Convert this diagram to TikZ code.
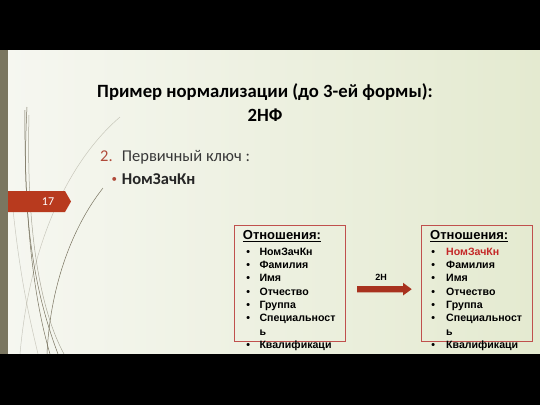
\documentclass[tikz,border=0pt]{standalone}
\usepackage{fontspec}
\setmainfont{Carlito}
\newfontfamily\arialf{Liberation Sans}
\usetikzlibrary{shapes.geometric}
\definecolor{bgl}{RGB}{246,247,241}
\definecolor{bgr}{RGB}{228,234,208}
\definecolor{strip}{RGB}{122,118,96}
\definecolor{badge}{RGB}{184,58,30}
\definecolor{accent}{RGB}{176,74,58}
\definecolor{boxred}{RGB}{192,80,77}
\definecolor{arrowred}{RGB}{168,50,30}
\definecolor{keyred}{RGB}{196,40,40}
\definecolor{deco}{RGB}{120,115,95}
\tikzset{
  titletext/.style={font=\bfseries\fontsize{18.7}{22}\selectfont, text=black},
  bodytext/.style={font=\fontsize{16.5}{20}\selectfont, text=black!78, anchor=base west, inner sep=0},
  relbox/.style={draw=boxred, line width=1pt},
  item/.style={font=\arialf\bfseries\fontsize{10.6}{12}\selectfont, anchor=base west, inner sep=0},
  bul/.style={font=\arialf\bfseries\fontsize{10.6}{12}\selectfont, anchor=base, inner sep=0},
  head/.style={font=\arialf\bfseries\fontsize{13}{14}\selectfont, anchor=base west, inner sep=0},
  decoline/.style={draw=deco, line width=0.5pt},
}
\begin{document}
\begin{tikzpicture}[x=1pt,y=-1pt]
\useasboundingbox (0,0) rectangle (540,405);
% background
\shade[left color=bgl, right color=bgr] (0,50) rectangle (540,354);
\fill[strip] (0,50) rectangle (8,354);
% decorative lines
\draw[decoline] (27,107) .. controls (22,200) and (30,280) .. (58,354);
\draw[decoline] (25,110) .. controls (24,220) and (34,300) .. (50,354);
\draw[decoline, draw opacity=0.6] (29,115) .. controls (26,230) and (40,310) .. (64,354);
\draw[decoline] (103,188) .. controls (70,230) and (50,290) .. (47,354);
\draw[decoline, draw opacity=0.35] (120,117) .. controls (70,160) and (30,240) .. (20,354);
\draw[decoline, draw opacity=0.35] (12,200) .. controls (20,280) and (30,320) .. (38,354);
% badge
\fill[badge] (8,191) -- (65,191) -- (71,201.5) -- (65,212) -- (8,212) -- cycle;
\node[font=\fontsize{12}{14}\selectfont, text=white, inner sep=0] (num) at (48,201.5) {17};
% title
\node[titletext, anchor=base] (title) at (265,97.7) {Пример нормализации (до 3-ей формы):};
\node[titletext, anchor=base] (sub) at (265,121.7) {2НФ};
% list
\node[bodytext, text=accent] (two) at (100,161.7) {2.};
\node[bodytext] (pk) at (121.7,161.7) {Первичный ключ :};
\node[bodytext, font=\fontsize{11}{12}\selectfont, text=accent] (dot) at (111.5,182.5) {•};
\node[bodytext, font=\bfseries\fontsize{16.5}{20}\selectfont, text=black!85] (key) at (121.7,184.5) {НомЗачКн};
% boxes
\draw[relbox] (234.5,225.5) rectangle (345.7,341);
\draw[relbox] (421.7,225.5) rectangle (532.7,341);
% arrow
\fill[arrowred] (357,286) -- (403,286) -- (403,282.7) -- (411.7,289.2) -- (403,295.5) -- (403,292.3) -- (357,292.3) -- cycle;
\node[font=\arialf\bfseries\fontsize{9}{10}\selectfont, inner sep=0, anchor=base] (lbl) at (381,280) {2Н};
% box contents
\foreach \bx/\tx/\hx/\kc [count=\b] in {248.3/259.3/242.7/black, 433.3/446/430/keyred}{
  \node[head] (h\b) at (\hx,239.3) {\underline{Отношения:}};
  \foreach \t [count=\i] in {НомЗачКн,Фамилия,Имя,Отчество,Группа,Специальност}{
    \pgfmathsetmacro{\yy}{255+(\i-1)*13.35}
    \node[bul] (b\b\i) at (\bx,\yy) {•};
  }
  \node[item, text=\kc] (t\b1) at (\tx,255) {НомЗачКн};
  \node[item] (t\b2) at (\tx,268.35) {Фамилия};
  \node[item] (t\b3) at (\tx,281.7) {Имя};
  \node[item] (t\b4) at (\tx,295.05) {Отчество};
  \node[item] (t\b5) at (\tx,308.4) {Группа};
  \node[item] (t\b6) at (\tx,321.75) {Специальност};
  \node[item] (t\b7) at (\tx,335.1) {ь};
  \node[bul] (b\b8) at (\bx,348.45) {•};
  \node[item] (t\b8) at (\tx,348.45) {Квалификаци};
}
% black bands
\fill[black] (0,0) rectangle (540,50);
\fill[black] (0,354) rectangle (540,405);
\end{tikzpicture}
\end{document}
